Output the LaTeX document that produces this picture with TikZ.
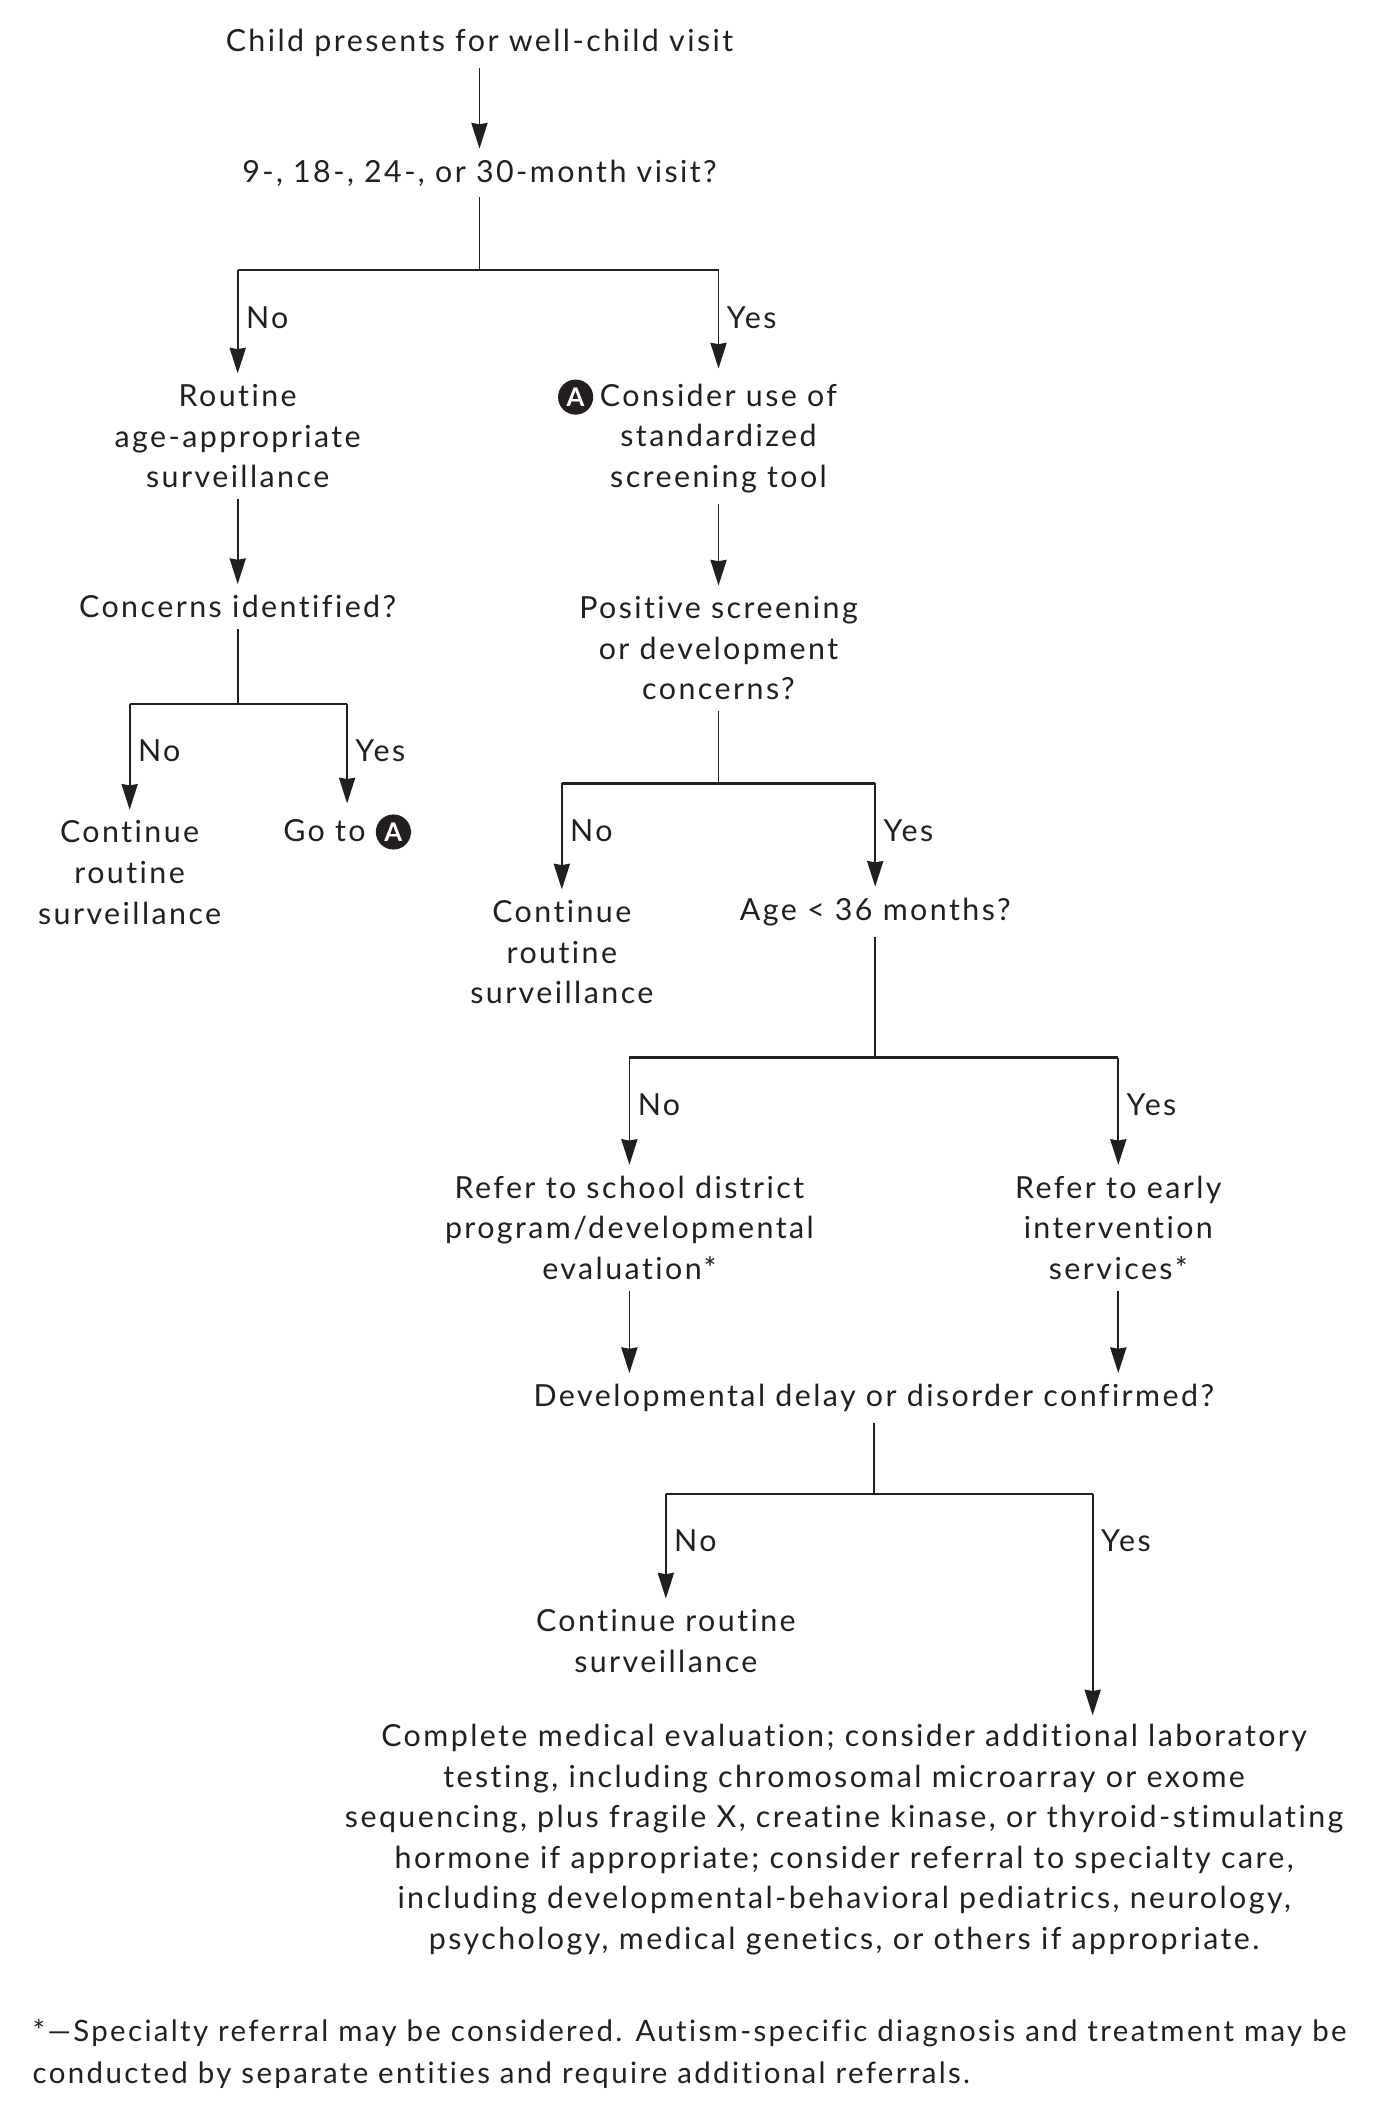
\documentclass[tikz,border=0pt]{standalone}
\usepackage{fontspec}
\setmainfont{Lato}[LetterSpace=8, Ligatures=NoCommon]
\usetikzlibrary{arrows.meta}
\definecolor{ink@chart}{RGB}{35, 31, 32}

\newcommand{\circA}{\tikz[baseline=(circA.base)]\node[circle, fill=ink@chart, text=white, minimum size=26pt, inner sep=0pt, font=\fontsize{19}{19}\selectfont\bfseries] (circA) {A};}

\begin{document}
\begin{tikzpicture}[x=1pt, y=-1pt, font=\fontsize{22.5}{30}\selectfont]
  \tikzstyle{stepbox}=[text=ink@chart, align=center, inner xsep=4pt, inner ysep=8pt]
  \tikzstyle{stem}=[draw, ink@chart, line width=1.25pt]
  \tikzstyle{bar}=[draw, ink@chart, line width=1.7pt]
  \tikzstyle{dir_edge}=[draw, ink@chart, line width=1.25pt, -{Stealth[length=19pt, width=12pt, inset=1pt]}]
  \tikzstyle{branch_lbl}=[text=ink@chart, anchor=west, inner sep=0pt]

  \useasboundingbox (0,0) rectangle (1024,1561.5);

  % Draw the steps
  \node[stepbox] (start)     at (355,32)   {Child presents for well-child visit};
  \node[stepbox] (visit)     at (355,128)  {9-, 18-, 24-, or 30-month visit?};
  \node[stepbox] (routine)   at (176,323)  {Routine\\age-appropriate\\surveillance};
  \node[stepbox] (tool)      at (532,323)  {\llap{\circA\hspace{5pt}}Consider use of\\standardized\\screening tool};
  \node[stepbox] (concern)   at (176,449)  {Concerns identified?};
  \node[stepbox] (positive)  at (532,480)  {Positive screening\\or development\\concerns?};
  \node[stepbox] (cont1)     at (96,646)   {Continue\\routine\\surveillance};
  \node[stepbox] (goto)      at (257,616)  {Go to \circA};
  \node[stepbox] (cont2)     at (416,705)  {Continue\\routine\\surveillance};
  \node[stepbox] (age)       at (648,675)  {Age < 36 months?};
  \node[stepbox] (school)    at (466,909)  {Refer to school district\\program/developmental\\evaluation*};
  \node[stepbox] (early)     at (828,909)  {Refer to early\\intervention\\services*};
  \node[stepbox] (confirmed) at (647,1035) {Developmental delay or disorder confirmed?};
  \node[stepbox] (cont3)     at (493,1215) {Continue routine\\surveillance};
  \node[stepbox] (medical)   at (625,1362) {Complete medical evaluation; consider additional laboratory\\
    testing, including chromosomal microarray or exome\\
    sequencing, plus fragile X, creatine kinase, or thyroid-stimulating\\
    hormone if appropriate; consider referral to specialty care,\\
    including developmental-behavioral pediatrics, neurology,\\
    psychology, medical genetics, or others if appropriate.};
  \coordinate (medin) at (809,1270);

  \node[stepbox, anchor=west, align=left, inner xsep=0pt, font=\fontsize{21.8}{31}\selectfont] (note) at (24,1521)
    {*---Specialty referral may be considered. Autism-specific diagnosis and treatment may be\\
     conducted by separate entities and require additional referrals.};

  % Straight arrows
  \foreach \source/ \dest in
    {
      start/visit,
      routine/concern,
      tool/positive,
      school/confirmed.north -| school,
      early/confirmed.north -| early%
    }
    \path[dir_edge] (\source) -- (\dest);

  % Yes/No branches
  \foreach \source/ \yb/ \lt/ \rt [count=\k] in
    {
      visit/200/routine.north/tool.north,
      concern/521/cont1.north/goto.north,
      positive/580/cont2.north/age.north,
      age/783/school.north/early.north,
      confirmed/1106/cont3.north/medin%
    }
    {
      \coordinate (jl\k) at (\lt |- 0,\yb);
      \coordinate (jr\k) at (\rt |- 0,\yb);
      \path[stem] (\source.south) -- (\source.south |- jl\k);
      \path[bar] (jl\k) -- (jr\k);
      \path[dir_edge] (jl\k) -- (\lt);
      \path[dir_edge] (jr\k) -- (\rt);
      \node[branch_lbl] (no\k) at ([xshift=6pt, yshift=-35pt]jl\k) {No};
      \node[branch_lbl] (yes\k) at ([xshift=6pt, yshift=-35pt]jr\k) {Yes};
    }

\end{tikzpicture}
\end{document}
